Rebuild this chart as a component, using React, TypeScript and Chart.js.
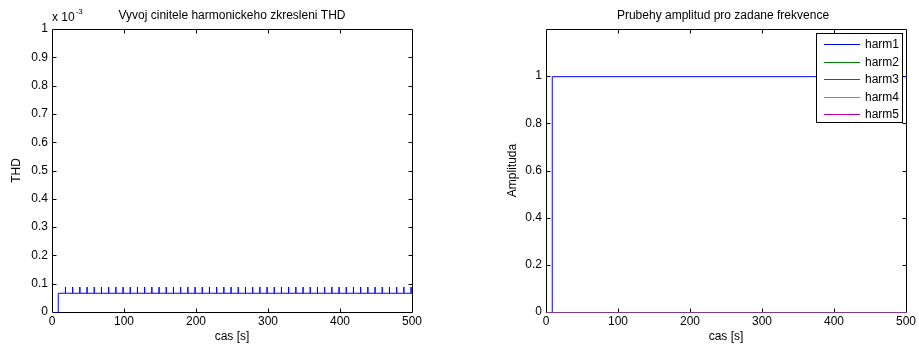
import React, { useEffect, useRef } from "react";
import { Chart, registerables } from "chart.js";

Chart.register(...registerables);

const FONT = '"Liberation Sans", Arial, Helvetica, sans-serif';
const FS = 12;

// ---- data ----
const xTickValues = [0, 100, 200, 300, 400, 500];
const thdTickValues = [0, 0.1, 0.2, 0.3, 0.4, 0.5, 0.6, 0.7, 0.8, 0.9, 1];
const ampTickValues = [0, 0.2, 0.4, 0.6, 0.8, 1];

// THD values are in units of 1e-3
const thdOnsetTime = 8;
const thdBaseLevel = 0.068;
const thdPeakLevel = 0.09;
const thdSpikeTimes = [
  18, 28, 38, 48, 58, 68, 78, 88, 98, 108, 118, 128, 138, 148, 158, 168, 178,
  188, 198, 208, 218, 228, 238, 248, 258, 268, 278, 288, 298, 308, 318, 328,
  338, 348, 358, 368, 378, 388, 398, 408, 418, 428, 438, 448, 458, 468, 478,
  488, 498,
];

const harmTimes = [0, 8, 8, 500];
const harm1 = [0, 0, 1, 1];
const harm2 = [0, 0, 0, 0];
const harm3 = [0, 0, 0, 0];
const harm4 = [0, 0, 0, 0];
const harm5 = [0, 0, 0, 0];
const harmLabels = ["harm1", "harm2", "harm3", "harm4", "harm5"];
const harmColors = ["#0000ff", "#008000", "#ff0000", "#00bfbf", "#bf00bf"];
const harmSeries = [harm1, harm2, harm3, harm4, harm5];

// ---- helpers ----
function buildThdPoints() {
  const pts: { x: number; y: number }[] = [
    { x: 0, y: 0 },
    { x: thdOnsetTime, y: 0 },
    { x: thdOnsetTime, y: thdBaseLevel },
  ];
  for (const t of thdSpikeTimes) {
    pts.push({ x: t, y: thdBaseLevel });
    pts.push({ x: t, y: thdPeakLevel });
    pts.push({ x: t, y: thdBaseLevel });
  }
  pts.push({ x: 500, y: thdBaseLevel });
  return pts;
}

// axes box drawn below the data (MATLAB layer 'bottom'), data shifted half a pixel for crisp lines
const framePlugin = {
  id: "matlabFrame",
  beforeDatasetsDraw(chart: any) {
    const { ctx, chartArea: a, scales } = chart;
    const L = Math.round(a.left) + 0.5;
    const R = Math.round(a.right) + 0.5;
    const T = Math.round(a.top) + 0.5;
    const B = Math.round(a.bottom) + 0.5;
    ctx.save();
    ctx.strokeStyle = "#000";
    ctx.lineWidth = 1;
    ctx.beginPath();
    ctx.rect(L, T, R - L, B - T);
    const tl = 4;
    for (const t of scales.x.ticks) {
      const px = Math.round(scales.x.getPixelForValue(t.value)) + 0.5;
      if (px <= L + 1 || px >= R - 1) continue;
      ctx.moveTo(px, B);
      ctx.lineTo(px, B - tl);
      ctx.moveTo(px, T);
      ctx.lineTo(px, T + tl);
    }
    for (const t of scales.y.ticks) {
      const py = Math.round(scales.y.getPixelForValue(t.value)) + 0.5;
      if (py <= T + 1 || py >= B - 1) continue;
      ctx.moveTo(L, py);
      ctx.lineTo(L + tl, py);
      ctx.moveTo(R, py);
      ctx.lineTo(R - tl, py);
    }
    ctx.stroke();
    ctx.restore();
    ctx.save();
    ctx.translate(0.5, 0.5);
  },
  afterDatasetsDraw(chart: any) {
    chart.ctx.restore();
  },
};

function makeTextPlugin(
  title: string,
  titleShift: number,
  xTitle: string,
  yTitle: string,
  yTitleX: number,
  exponent: boolean
) {
  return {
    id: "matlabTexts",
    afterDraw(chart: any) {
      const { ctx, chartArea: a } = chart;
      const cx = (a.left + a.right) / 2;
      const cy = (a.top + a.bottom) / 2;
      ctx.save();
      ctx.fillStyle = "#000";
      ctx.font = `${FS}px ${FONT}`;
      ctx.textAlign = "center";
      ctx.textBaseline = "alphabetic";
      ctx.fillText(title, cx + titleShift, 19);
      ctx.fillText(xTitle, cx, 340);
      ctx.save();
      ctx.translate(yTitleX, cy);
      ctx.rotate(-Math.PI / 2);
      ctx.textBaseline = "middle";
      ctx.fillText(yTitle, 0, 0);
      ctx.restore();
      if (exponent) {
        ctx.textAlign = "left";
        ctx.fillText("x 10", a.left, 21);
        const w = ctx.measureText("x 10").width;
        ctx.font = `8px ${FONT}`;
        ctx.fillText("-3", a.left + w + 1, 14);
      }
      ctx.restore();
    },
  };
}

const legendPlugin = {
  id: "matlabLegend",
  afterDraw(chart: any) {
    const { ctx, chartArea: a } = chart;
    const right = Math.round(a.right) - 3;
    const left = right - 87;
    const top = Math.round(a.top) + 4;
    const h = 90;
    ctx.save();
    ctx.fillStyle = "#fff";
    ctx.fillRect(left, top, right - left, h);
    ctx.strokeStyle = "#000";
    ctx.lineWidth = 1;
    ctx.strokeRect(left + 0.5, top + 0.5, right - left - 1, h - 1);
    ctx.font = `${FS}px ${FONT}`;
    ctx.textBaseline = "middle";
    ctx.textAlign = "left";
    harmLabels.forEach((lab, i) => {
      const y = Math.round(top + 11 + i * 17.5) + 0.5;
      ctx.strokeStyle = harmColors[i];
      ctx.beginPath();
      ctx.moveTo(left + 8, y);
      ctx.lineTo(left + 44, y);
      ctx.stroke();
      ctx.fillStyle = "#000";
      ctx.fillText(lab, left + 49, y);
    });
    ctx.restore();
  },
};

function xScale() {
  return {
    type: "linear",
    min: 0,
    max: 500,
    afterBuildTicks: (s: any) => {
      s.ticks = xTickValues.map((v) => ({ value: v }));
    },
    afterFit: (s: any) => {
      s.height = 35;
    },
    grid: { display: false, drawTicks: false },
    border: { display: false },
    ticks: {
      padding: 2,
      color: "#000",
      font: { family: FONT, size: FS },
      maxRotation: 0,
      autoSkip: false,
      callback: (v: any) => String(v),
    },
  };
}

function yScale(max: number, tickValues: number[], width: number) {
  return {
    type: "linear",
    min: 0,
    max,
    afterBuildTicks: (s: any) => {
      s.ticks = tickValues.map((v) => ({ value: v }));
    },
    afterFit: (s: any) => {
      s.width = width;
    },
    grid: { display: false, drawTicks: false },
    border: { display: false },
    ticks: {
      padding: 4,
      color: "#000",
      font: { family: FONT, size: FS },
      autoSkip: false,
      callback: (v: any) => String(Math.round(v * 100) / 100),
    },
  };
}

export default function App() {
  const leftRef = useRef<HTMLCanvasElement>(null);
  const rightRef = useRef<HTMLCanvasElement>(null);

  useEffect(() => {
    const left = new Chart(leftRef.current as HTMLCanvasElement, {
      type: "line",
      data: {
        datasets: [
          {
            label: "THD",
            data: buildThdPoints(),
            borderColor: "#0000ff",
            borderWidth: 1,
            pointRadius: 0,
            fill: false,
            tension: 0,
          },
        ],
      },
      options: {
        responsive: false,
        animation: false,
        events: [],
        layout: { padding: { top: 29, right: 48, bottom: 0, left: 0 } },
        plugins: { legend: { display: false }, tooltip: { enabled: false } },
        scales: { x: xScale(), y: yScale(1, thdTickValues, 52) } as any,
      },
      plugins: [
        framePlugin,
        makeTextPlugin("Vyvoj cinitele harmonickeho zkresleni THD", 0, "cas [s]", "THD", 17, true),
      ],
    } as any);

    const right = new Chart(rightRef.current as HTMLCanvasElement, {
      type: "line",
      data: {
        datasets: harmSeries.map((vals, i) => ({
          label: harmLabels[i],
          data: vals.map((v, k) => ({ x: harmTimes[k], y: v })),
          borderColor: harmColors[i],
          borderWidth: 1,
          pointRadius: 0,
          fill: false,
          tension: 0,
          order: harmSeries.length - 1 - i,
        })),
      },
      options: {
        responsive: false,
        animation: false,
        events: [],
        layout: { padding: { top: 29, right: 13, bottom: 0, left: 0 } },
        plugins: { legend: { display: false }, tooltip: { enabled: false } },
        scales: { x: xScale(), y: yScale(1.2, ampTickValues, 86) } as any,
      },
      plugins: [
        framePlugin,
        legendPlugin,
        makeTextPlugin("Prubehy amplitud pro zadane frekvence", -3, "cas [s]", "Amplituda", 53, false),
      ],
    } as any);

    return () => {
      left.destroy();
      right.destroy();
    };
  }, []);

  return (
    <div style={{ position: "fixed", left: 0, top: 0, width: 919, height: 347, background: "#fff" }}>
      <canvas
        ref={leftRef}
        width={460}
        height={347}
        style={{ position: "absolute", left: 0, top: 0, width: 460, height: 347 }}
      />
      <canvas
        ref={rightRef}
        width={459}
        height={347}
        style={{ position: "absolute", left: 460, top: 0, width: 459, height: 347 }}
      />
    </div>
  );
}
